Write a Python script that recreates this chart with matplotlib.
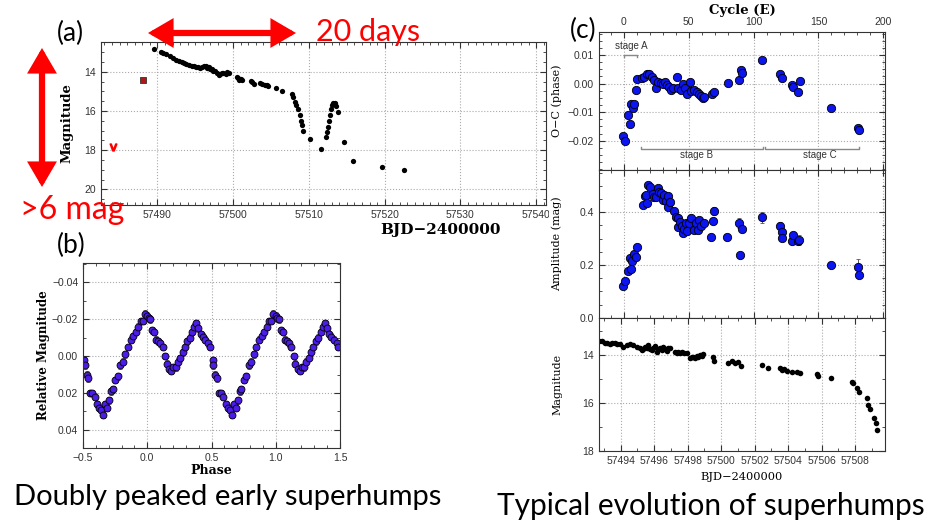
import numpy as np
import matplotlib
matplotlib.use("Agg")
import matplotlib.pyplot as plt
from matplotlib.patches import FancyArrowPatch
from matplotlib.ticker import MultipleLocator
from matplotlib.transforms import Bbox, TransformedBbox

plt.rcParams.update({
    "font.family": "Liberation Sans",
    "font.size": 7,
    "axes.edgecolor": "#333333",
    "axes.linewidth": 0.8,
    "xtick.direction": "in",
    "ytick.direction": "in",
    "xtick.top": True,
    "ytick.right": True,
    "xtick.major.size": 4,
    "ytick.major.size": 4,
    "xtick.minor.size": 2.5,
    "ytick.minor.size": 2.5,
    "xtick.labelsize": 7.5,
    "ytick.labelsize": 7.5,
    "xtick.color": "#333333",
    "ytick.color": "#333333",
})

# (a) overall light curve
bjd_a = [57489.5, 57490.5, 57490.8, 57491.1, 57491.7, 57492.1, 57492.5, 57492.9, 57493.3,
         57493.55, 57493.8, 57494.2, 57494.5, 57494.85, 57495.1, 57495.4, 57495.6, 57495.9,
         57496.1, 57496.35, 57496.6, 57496.8, 57497.0, 57497.2, 57497.4, 57497.6, 57497.85,
         57498.1, 57498.3, 57498.5, 57498.7, 57499.0, 57499.2, 57499.5, 57500.5, 57500.6,
         57500.8, 57501.0, 57501.2, 57502.3, 57502.5, 57502.75, 57503.6, 57503.8, 57504.2,
         57504.4, 57504.6, 57505.6, 57506.45, 57507.8, 57507.95, 57508.1, 57508.35, 57508.6,
         57508.85, 57509.0, 57509.1, 57509.2, 57510.1, 57511.55, 57512.3, 57512.4, 57512.5,
         57512.6, 57512.75, 57512.9, 57513.05, 57513.2, 57513.4, 57513.6, 57513.85, 57514.6,
         57515.8, 57519.65, 57522.5]
mag_a = [12.84, 13.0, 13.05, 13.1, 13.2, 13.3, 13.4, 13.47, 13.52,
         13.57, 13.6, 13.66, 13.68, 13.71, 13.75, 13.74, 13.8, 13.78,
         13.72, 13.71, 13.83, 13.78, 13.88, 13.85, 13.94, 13.98, 14.04,
         14.16, 14.1, 14.07, 14.05, 14.1, 14.0, 14.04, 14.25, 14.32,
         14.43, 14.38, 14.43, 14.47, 14.52, 14.6, 14.57, 14.63, 14.69,
         14.7, 14.74, 14.85, 14.99, 15.14, 15.3, 15.54, 15.7, 15.88,
         16.22, 16.5, 16.74, 17.0, 17.42, 17.93, 17.33, 17.05, 16.8,
         16.5, 16.2, 15.88, 15.7, 15.6, 15.58, 15.73, 16.07, 17.59,
         18.56, 18.87, 18.99]
bjd_pre = [57488.07]
mag_pre = [14.43]
bjd_lim = [57484.1]
mag_lim = [17.85]

# (b) early superhump profile, one cycle
phase_b = [-0.49, -0.487, -0.47, -0.458, -0.445, -0.427, -0.41, -0.39, -0.372, -0.357,
           -0.344, -0.326, -0.31, -0.295, -0.28, -0.267, -0.249, -0.228, -0.21, -0.19,
           -0.17, -0.15, -0.13, -0.11, -0.09, -0.07, -0.05, -0.035, -0.02, 0.0,
           0.01, 0.023, 0.04, 0.056, 0.07, 0.087, 0.10, 0.12, 0.14, 0.152,
           0.17, 0.186, 0.204, 0.22, 0.238, 0.256, 0.275, 0.29, 0.31, 0.33,
           0.35, 0.365, 0.38, 0.397, 0.415, 0.433, 0.45, 0.473, 0.486]
mag_b = [0.002, 0.005, 0.010, 0.012, 0.020, 0.020, 0.022, 0.026, 0.028, 0.029,
         0.032, 0.026, 0.028, 0.024, 0.019, 0.018, 0.013, 0.011, 0.005, 0.003,
         -0.001, -0.005, -0.009, -0.011, -0.013, -0.016, -0.019, -0.019, -0.023, -0.022,
         -0.0205, -0.020, -0.014, -0.013, -0.009, -0.008, -0.007, -0.005, 0.000, 0.004,
         0.007, 0.008, 0.006, 0.006, 0.003, 0.001, -0.002, -0.005, -0.008, -0.010,
         -0.013, -0.016, -0.018, -0.015, -0.012, -0.0105, -0.009, -0.007, -0.005]

# (c) O-C
E_oc = [-0.5, 0.8, 3.3, 4.6, 5.4, 6.6, 8.0, 9.0, 9.8, 13.6, 15.7, 17.5, 19.6, 21.4, 23.1,
        24.7, 26.5, 28.3, 30.3, 31.6, 33.0, 34.8, 36.3, 37.6, 40.7, 42.0, 44.0, 45.3, 47.1,
        48.3, 50.9, 51.7, 54.3, 56.0, 57.9, 59.4, 61.2, 62.0, 67.6, 69.4, 80.0, 88.7, 90.0,
        90.9, 106.2, 120.4, 122.2, 129.4, 130.7, 134.5, 135.8, 159.5, 180.3, 181.6]
oc = [-0.0185, -0.0201, -0.0111, -0.0140, -0.0073, -0.0084, -0.0073, -0.0021, 0.0015,
      0.0020, 0.0023, 0.0032, 0.0033, 0.0023, 0.0012, -0.0015, 0.0004, 0.0003, -0.0002,
      0.0006, -0.0006, -0.0012, -0.0023, -0.0014, 0.0023, -0.0017, -0.0023, -0.0002,
      -0.0014, -0.0035, 0.0004, -0.0026, -0.0021, -0.0029, -0.0037, -0.0043, -0.0050,
      -0.0046, -0.0037, -0.0030, 0.0002, 0.0014, 0.0049, 0.0037, 0.0084, 0.0032, 0.0021,
      -0.0006, -0.0012, -0.0029, 0.0008, -0.0084, -0.0154, -0.0164]

# (c) amplitude
E_amp = [-0.5, 0.8, 3.3, 5.4, 4.6, 6.4, 8.0, 9.0, 9.8, 15.0, 16.3, 17.0, 17.8, 18.3, 20.3,
         22.1, 23.4, 24.6, 25.9, 27.2, 28.5, 29.8, 31.1, 32.4, 33.7, 34.2, 35.8, 38.9, 40.2,
         41.5, 42.0, 43.3, 44.6, 45.3, 46.6, 47.9, 48.7, 50.5, 51.7, 54.3, 55.8, 56.9, 58.2,
         59.4, 62.0, 67.2, 68.5, 69.8, 79.5, 88.5, 89.8, 90.8, 106.2, 120.4, 122.2, 121.7,
         129.4, 130.7, 134.5, 135.3, 159.5, 180.3, 181.6]
amp = [0.120, 0.140, 0.177, 0.184, 0.228, 0.216, 0.242, 0.229, 0.269, 0.426, 0.462, 0.465,
       0.436, 0.504, 0.495, 0.469, 0.459, 0.457, 0.491, 0.478, 0.472, 0.447, 0.466, 0.441,
       0.463, 0.418, 0.438, 0.406, 0.383, 0.377, 0.343, 0.361, 0.349, 0.320, 0.336, 0.359,
       0.330, 0.359, 0.377, 0.333, 0.359, 0.333, 0.371, 0.346, 0.359, 0.307, 0.368, 0.406,
       0.307, 0.359, 0.238, 0.335, 0.380, 0.349, 0.324, 0.302, 0.290, 0.313, 0.290, 0.295,
       0.200, 0.191, 0.161]
amp_err = [0.010, 0.008, 0.008, 0.008, 0.008, 0.008, 0.008, 0.008, 0.008, 0.008, 0.010, 0.010,
           0.010, 0.008, 0.010, 0.025, 0.010, 0.010, 0.012, 0.010, 0.010, 0.010, 0.010, 0.010,
           0.010, 0.010, 0.010, 0.010, 0.010, 0.012, 0.012, 0.010, 0.010, 0.010, 0.010, 0.010,
           0.010, 0.010, 0.010, 0.010, 0.010, 0.010, 0.010, 0.010, 0.010, 0.008, 0.010, 0.015,
           0.012, 0.018, 0.012, 0.010, 0.022, 0.012, 0.015, 0.010, 0.010, 0.012, 0.010, 0.020,
           0.008, 0.030, 0.012]

# (c) light curve during superoutburst
bjd_c = [57492.72, 57492.86, 57493.06, 57493.2, 57493.36, 57493.5, 57493.66, 57493.8, 57493.96,
         57494.16, 57494.36, 57494.56, 57494.76, 57495.0, 57495.15, 57495.25, 57495.35, 57495.45,
         57495.55, 57495.65, 57495.75, 57495.85, 57495.95, 57496.05, 57496.15, 57496.25, 57496.35,
         57496.45, 57496.55, 57496.65, 57496.75, 57496.85, 57496.95, 57497.24, 57497.34, 57497.44,
         57497.54, 57497.66, 57497.78, 57497.94, 57498.14, 57498.24, 57498.34, 57498.44, 57498.54,
         57498.64, 57498.74, 57498.84, 57498.94, 57499.53, 57499.57, 57500.43, 57500.63, 57500.83,
         57501.03, 57501.17, 57502.42, 57502.82, 57503.52, 57503.64, 57503.76, 57503.92, 57504.22,
         57504.52, 57504.72, 57505.71, 57505.81, 57506.54, 57507.8, 57507.9, 57508.1, 57508.26,
         57508.7, 57508.8, 57508.9, 57509.15, 57509.25, 57509.29]
mag_c = [13.42, 13.43, 13.53, 13.52, 13.55, 13.52, 13.53, 13.55, 13.55,
         13.67, 13.60, 13.55, 13.60, 13.67, 13.72, 13.80, 13.75, 13.67,
         13.72, 13.60, 13.75, 13.80, 13.70, 13.64, 13.87, 13.78, 13.73,
         13.80, 13.67, 13.76, 13.83, 13.70, 13.73, 13.87, 13.94, 13.90,
         13.94, 13.88, 13.92, 13.94, 14.15, 14.10, 14.08, 14.12, 14.05,
         14.09, 14.01, 14.06, 13.98, 14.11, 14.25, 14.36, 14.25, 14.33,
         14.29, 14.47, 14.43, 14.57, 14.57, 14.63, 14.61, 14.67, 14.71,
         14.71, 14.75, 14.82, 14.89, 14.98, 15.12, 15.19, 15.40, 15.54,
         15.81, 16.09, 16.26, 16.64, 16.85, 17.12]

W, H = 927, 522
fig = plt.figure(figsize=(W / 100, H / 100), dpi=100)


def box(x0, y0, x1, y1):
    return [x0 / W, 1 - y1 / H, (x1 - x0) / W, (y1 - y0) / H]


def style(ax):
    ax.grid(True, which="major", ls=":", color="#aaaaaa", lw=0.8)
    ax.set_axisbelow(True)


SERIF = "DejaVu Serif"

# ---- panel (a)
axa = fig.add_axes(box(101, 42, 546, 205))
axa.plot(bjd_a, mag_a, "o", color="black", ms=3.8, mew=0)
axa.plot(bjd_pre, mag_pre, "s", color="#b01818", mec="#333333", mew=0.6, ms=4)
axa.plot(bjd_lim, mag_lim, ls="none", marker=r"$\mathsf{v}$", color="red", ms=5)
axa.set_xlim(57482.55, 57541.3)
axa.set_ylim(20.8, 12.48)
axa.xaxis.set_major_locator(MultipleLocator(10))
axa.xaxis.set_minor_locator(MultipleLocator(1))
axa.yaxis.set_major_locator(MultipleLocator(2))
axa.yaxis.set_minor_locator(MultipleLocator(0.5))
style(axa)
axa.set_ylabel("Magnitude", family=SERIF, fontsize=9.5, fontweight="bold")
axa.yaxis.set_label_coords(-28 / 445, 0.5)
axa.set_xlabel("BJD\u22122400000", family=SERIF, fontsize=11, fontweight="bold")
axa.xaxis.set_label_coords(0.764, -18 / 163)
clip = TransformedBbox(Bbox([[0, 0], [549 / W, 1]]), fig.transFigure)
for lbl in axa.get_xticklabels():
    lbl.set_clip_box(clip)
    lbl.set_clip_on(True)

# ---- panel (b)
axb = fig.add_axes(box(83, 263, 340, 448))
ph = np.array(phase_b)
mb = np.array(mag_b)
for shift in (0, 1):
    axb.errorbar(ph + shift, mb, yerr=0.0018, fmt="o", color="#4c1ce8", mec="black",
                 mew=0.6, ms=5, ecolor="#555555", elinewidth=0.7, capsize=1.5)
axb.set_xlim(-0.5, 1.5)
axb.set_ylim(0.0498, -0.0505)
axb.xaxis.set_minor_locator(MultipleLocator(0.1))
axb.yaxis.set_minor_locator(MultipleLocator(0.01))
axb.set_xticks([-0.5, 0.0, 0.5, 1.0, 1.5])
axb.set_xticklabels(["\u22120.5", "0.0", "0.5", "1.0", "1.5"])
axb.set_yticks([-0.04, -0.02, 0.0, 0.02, 0.04])
axb.set_yticklabels(["\u22120.04", "\u22120.02", "0.00", "0.02", "0.04"])
style(axb)
axb.set_ylabel("Relative Magnitude", family=SERIF, fontsize=8.5, fontweight="bold")
axb.yaxis.set_label_coords(-33 / 257, 0.5)
axb.set_xlabel("Phase", family=SERIF, fontsize=9, fontweight="bold")
axb.xaxis.set_label_coords(0.5, -16 / 185)

# ---- panel (c)
Elim = (-19.28, 201.3)
axc1 = fig.add_axes(box(599, 32, 885, 170))
axc1.errorbar(E_oc, oc, yerr=0.0006, fmt="o", color="#0c14f0", mec="black", mew=0.6,
              ms=6, ecolor="#555555", elinewidth=0.7, capsize=1.5)
axc1.set_xlim(*Elim)
axc1.set_ylim(-0.0303, 0.0181)
axc1.xaxis.set_major_locator(MultipleLocator(50))
axc1.xaxis.set_minor_locator(MultipleLocator(10))
axc1.yaxis.set_minor_locator(MultipleLocator(0.0025))
axc1.set_yticks([-0.02, -0.01, 0.0, 0.01])
axc1.set_yticklabels(["\u22120.02", "\u22120.01", "0.00", "0.01"])
axc1.tick_params(axis="x", labelbottom=False, labeltop=True)
style(axc1)
axc1.set_ylabel("O\u2212C (phase)", family=SERIF, fontsize=8)
axc1.yaxis.set_label_coords(-37 / 286, 0.5)
axc1.xaxis.set_label_position("top")
axc1.set_xlabel("Cycle (E)", family=SERIF, fontsize=9.5, fontweight="bold")
axc1.xaxis.set_label_coords(0.5, 1 + 18 / 138)

# stage brackets
gcol = "#888888"
axc1.plot([0, 0, 10, 10], [0.0092, 0.0099, 0.0099, 0.0092], color=gcol, lw=1)
axc1.plot([13, 13, 107, 107], [-0.0224, -0.0231, -0.0231, -0.0224], color=gcol, lw=1)
axc1.plot([108.5, 108.5, 181.5, 181.5], [-0.0224, -0.0231, -0.0231, -0.0224], color=gcol, lw=1)
axc1.text(6, 0.0132, "stage A", ha="center", va="center", fontsize=7, color="#333333")
axc1.text(56, -0.0252, "stage B", ha="center", va="center", fontsize=7, color="#333333")
axc1.text(151, -0.0252, "stage C", ha="center", va="center", fontsize=7, color="#333333")

axc2 = fig.add_axes(box(599, 170, 885, 317.7))
axc2.errorbar(E_amp, amp, yerr=amp_err, fmt="o", color="#0c14f0", mec="black", mew=0.6,
              ms=6, ecolor="#555555", elinewidth=0.7, capsize=1.5)
axc2.set_xlim(*Elim)
axc2.set_ylim(0, 0.56)
axc2.xaxis.set_major_locator(MultipleLocator(50))
axc2.xaxis.set_minor_locator(MultipleLocator(10))
axc2.yaxis.set_major_locator(MultipleLocator(0.2))
axc2.yaxis.set_minor_locator(MultipleLocator(0.05))
axc2.tick_params(axis="x", labelbottom=False)
style(axc2)
axc2.set_ylabel("Amplitude (mag)", family=SERIF, fontsize=8)
axc2.yaxis.set_label_coords(-37 / 286, 0.5)

axc3 = fig.add_axes(box(599, 317.7, 885, 451))
axc3.plot(bjd_c, mag_c, "o", color="black", ms=4, mew=0)
axc3.set_xlim(57492.70, 57509.79)
axc3.set_ylim(18, 12.46)
axc3.xaxis.set_major_locator(MultipleLocator(2))
axc3.xaxis.set_minor_locator(MultipleLocator(1))
axc3.yaxis.set_major_locator(MultipleLocator(2))
axc3.yaxis.set_minor_locator(MultipleLocator(1))
style(axc3)
axc3.set_ylabel("Magnitude", family=SERIF, fontsize=8)
axc3.yaxis.set_label_coords(-37 / 286, 0.5)
axc3.set_xlabel("BJD\u22122400000", family=SERIF, fontsize=8.2)
axc3.xaxis.set_label_coords(0.5, -21 / 133)

# ---- annotations
cap = dict(family="Lato", color="black")
fig.text(70 / W, 1 - 33 / H, "(a)", ha="center", va="center", fontsize=19, **cap)
fig.text(71 / W, 1 - 245 / H, "(b)", ha="center", va="center", fontsize=19, **cap)
fig.text(583 / W, 1 - 30 / H, "(c)", ha="center", va="center", fontsize=19, **cap)
fig.text(228 / W, 1 - 497 / H, "Doubly peaked early superhumps", ha="center", va="center",
         fontsize=21, **cap)
fig.text(711 / W, 1 - 506 / H, "Typical evolution of superhumps", ha="center", va="center",
         fontsize=21.5, **cap)
fig.text(368 / W, 1 - 32 / H, "20 days", ha="center", va="center", fontsize=22,
         family="Lato", color="red")
fig.text(72 / W, 1 - 210 / H, ">6 mag", ha="center", va="center", fontsize=23,
         family="Lato", color="red")

for p0, p1 in [((42, 48), (42, 187)), ((148, 33), (296, 33))]:
    arr = FancyArrowPatch((p0[0] / W, 1 - p0[1] / H), (p1[0] / W, 1 - p1[1] / H),
                          transform=fig.transFigure,
                          arrowstyle="<|-|>,head_length=0.65,head_width=0.38",
                          mutation_scale=18, lw=4.5, color="red",
                          shrinkA=0, shrinkB=0, joinstyle="miter")
    fig.patches.append(arr)

fig.savefig("out.png", dpi=100)
